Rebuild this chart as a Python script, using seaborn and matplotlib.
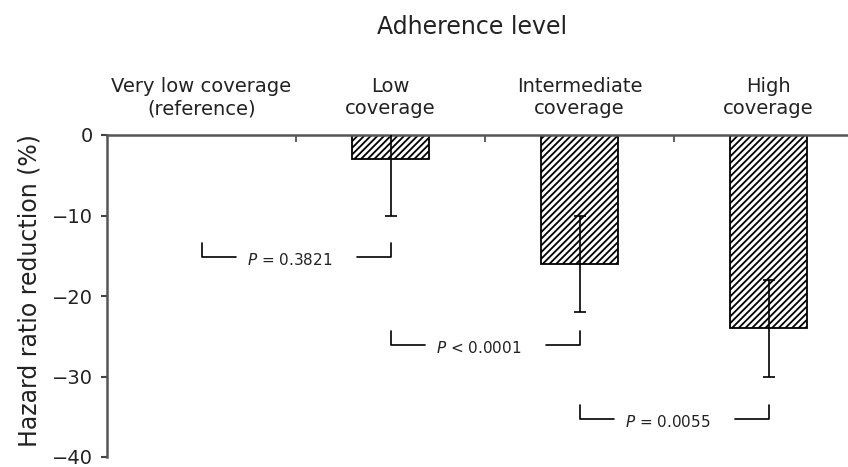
import matplotlib
matplotlib.use("Agg")
import matplotlib.pyplot as plt
import seaborn as sns
import numpy as np
import pandas as pd

categories = ["Very low coverage\n(reference)", "Low\ncoverage",
              "Intermediate\ncoverage", "High\ncoverage"]
values = [0, -3, -16, -24]
ci_low = [np.nan, -10, -22, -30]
ci_high = [np.nan, 4, -10, -18]
yticks = [0, -10, -20, -30, -40]
bracket_pairs = [(0, 1), (1, 2), (2, 3)]
bracket_y = [-15.2, -26.1, -35.3]
p_labels = [r"$P$ = 0.3821", r"$P$ < 0.0001", r"$P$ = 0.0055"]

sns.set_style("white")
plt.rcParams["font.family"] = ["DejaVu Sans"]
plt.rcParams["hatch.linewidth"] = 1.3
plt.rcParams["mathtext.default"] = "it"
plt.rcParams["axes.unicode_minus"] = True

fig = plt.figure(figsize=(8.48, 4.67), dpi=100)
ax = fig.add_axes([107 / 848, 1 - 457 / 467, 1 - 107 / 848, (457 - 135) / 467])

df = pd.DataFrame({"cat": categories, "val": values})
sns.barplot(data=df, x="cat", y="val", order=categories, color="white",
            edgecolor="black", linewidth=1.3, width=0.41, hatch="/////",
            errorbar=None, ax=ax, zorder=2)
for p in ax.patches:
    if p.get_height() == 0:
        p.set_visible(False)

xs = np.arange(len(categories))
vals = np.array(values, dtype=float)
lo = np.array(ci_low)
hi = np.array(ci_high)
mask = ~np.isnan(lo)
ax.errorbar(xs[mask], vals[mask], yerr=[vals[mask] - lo[mask], hi[mask] - vals[mask]],
            fmt="none", ecolor="black", elinewidth=1.2, capsize=4, capthick=1.2, zorder=3)

ax.set_xlim(-0.5, 3.42)
ax.set_ylim(-40, 0)
ax.set_yticks(yticks)
ax.set_yticklabels([f"{t}".replace("-", "\u2212") for t in yticks])
ax.set_xlabel("")
ax.set_ylabel("")

ax.xaxis.tick_top()
ax.tick_params(axis="x", which="major", length=0, pad=12, labelsize=14, labelcolor="#222222")
ax.set_xticks([0.5, 1.5, 2.5], minor=True)
ax.tick_params(axis="x", which="minor", top=True, bottom=False, direction="in",
               length=5, width=1.2, color="#444444")
ax.tick_params(axis="y", which="major", left=True, direction="out", length=4,
               width=1.5, color="#444444", labelsize=14, labelcolor="#222222", pad=6)

for s in ["bottom", "right"]:
    ax.spines[s].set_visible(False)
for s in ["top", "left"]:
    ax.spines[s].set_visible(True)
    ax.spines[s].set_color("#555555")
    ax.spines[s].set_linewidth(1.8)

# significance brackets
for (a, b), yb, lab in zip(bracket_pairs, bracket_y, p_labels):
    h = 1.8
    seg = 0.18
    ax.plot([a, a, a + seg], [yb + h, yb, yb], color="black", lw=1.2, clip_on=False)
    ax.plot([b - seg, b, b], [yb, yb, yb + h], color="black", lw=1.2, clip_on=False)
    ax.text((a + b) / 2 - 0.035, yb - 0.3, lab, ha="center", va="center",
            fontsize=11, color="#222222")

fig.text(472 / 848, 1 - 27 / 467, "Adherence level", ha="center", va="center",
         fontsize=17, color="#222222")
fig.text(30 / 848, 1 - 291 / 467, "Hazard ratio reduction (%)", ha="center",
         va="center", rotation=90, fontsize=17, color="#222222")

fig.savefig("out.png", dpi=100)
